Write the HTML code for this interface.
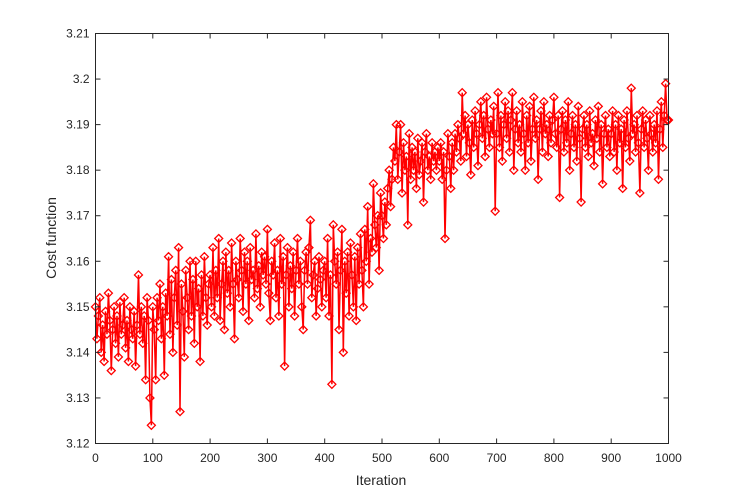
<!DOCTYPE html>
<html><head><meta charset="utf-8"><style>
body{margin:0;background:#fff;}
svg text{font-family:"Liberation Sans",sans-serif;fill:#262626;}
</style></head><body>
<svg id="chart" width="738" height="498" xmlns="http://www.w3.org/2000/svg">
<rect x="0" y="0" width="738" height="498" fill="#fff"/>
<g id="series"></g>
<rect x="95.5" y="33.5" width="573" height="410" fill="none" stroke="#262626" stroke-width="1"/>
<g id="axes"></g>
<text x="381" y="485" font-size="14" text-anchor="middle">Iteration</text>
<text x="0" y="0" font-size="14" text-anchor="middle" transform="translate(56,238) rotate(-90)">Cost function</text>
</svg>
<script>
const xTicks=[0,100,200,300,400,500,600,700,800,900,1000];
const yTicks=[3.12,3.13,3.14,3.15,3.16,3.17,3.18,3.19,3.2,3.21];
const yTickLabels=["3.12","3.13","3.14","3.15","3.16","3.17","3.18","3.19","3.2","3.21"];
const iterMax=1000;
// cost values in thousandths above 3.100
const costMilli=[
50,43,48,52,40,46,38,49,44,53,47,36,45,50,42,48,39,51,44,46,52,41,47,38,50,45,43,49,37,46,57,44,50,42,48,34,52,47,30,24,
50,45,34,52,47,55,43,50,35,53,48,61,44,56,40,52,58,46,63,27,55,49,39,58,52,45,60,48,56,42,60,50,54,38,57,48,61,52,46,55,
57,50,63,48,58,52,65,47,55,60,45,62,53,58,50,64,55,43,60,56,52,65,58,49,62,55,60,47,63,56,58,52,66,54,59,50,62,57,61,55,
67,53,47,60,57,64,52,58,48,65,55,61,37,57,63,50,59,54,62,48,58,65,55,60,50,45,58,62,55,63,69,52,57,60,48,54,61,56,50,58,
60,52,65,48,57,33,68,60,55,62,45,58,67,40,60,53,62,48,64,57,50,61,47,63,55,66,58,50,67,60,72,55,65,62,77,68,63,70,58,75,
70,65,73,68,76,80,72,78,85,82,90,78,84,90,75,86,80,83,68,88,78,85,80,84,76,87,79,82,86,73,84,88,80,83,78,86,82,84,80,85,
82,86,78,84,65,80,88,83,76,86,80,88,84,90,87,82,97,88,92,83,90,86,79,91,85,93,88,81,90,95,87,92,83,96,89,85,91,88,94,71,
88,97,85,92,82,90,95,87,93,84,91,97,80,89,93,86,90,84,95,88,80,92,86,94,82,89,96,87,91,78,89,93,84,95,88,90,83,92,86,91,
96,88,85,92,74,89,93,84,91,86,95,80,88,92,85,90,82,94,87,73,89,92,85,90,83,93,86,88,81,91,87,94,84,90,77,88,92,85,89,83,
88,93,84,90,80,92,86,89,76,91,85,93,87,82,98,88,90,84,92,86,75,89,93,85,91,87,80,92,88,84,90,86,93,78,89,95,85,92,99,91,
91];
const NS="http://www.w3.org/2000/svg";
const X0=95.5,X1=668.5,Y0=443.5,Y1=33.5;
const xScale=v=>X0+(v-0)/(1000-0)*(X1-X0);
const yScale=v=>Y0+(v-3.12)/(3.21-3.12)*(Y1-Y0);
const axes=document.getElementById('axes');
xTicks.forEach(t=>{
  const x=xScale(t);
  const l=document.createElementNS(NS,'line');
  l.setAttribute('x1',x);l.setAttribute('x2',x);l.setAttribute('y1',Y0);l.setAttribute('y2',Y0-5);
  l.setAttribute('stroke','#262626');
  
  
  axes.appendChild(l);
  const l2=document.createElementNS(NS,'line');
  l2.setAttribute('x1',x);l2.setAttribute('x2',x);l2.setAttribute('y1',Y1);l2.setAttribute('y2',Y1+5);
  l2.setAttribute('stroke','#262626');
  
  
  axes.appendChild(l2);
  const tx=document.createElementNS(NS,'text');
  tx.setAttribute('x',x);tx.setAttribute('y',462);tx.setAttribute('font-size','12');tx.setAttribute('text-anchor','middle');
  tx.textContent=t;
  
  
  axes.appendChild(tx);
});
yTicks.forEach((t,i)=>{
  const y=yScale(t);
  const l=document.createElementNS(NS,'line');
  l.setAttribute('x1',X0);l.setAttribute('x2',X0+5);l.setAttribute('y1',y);l.setAttribute('y2',y);
  l.setAttribute('stroke','#262626');
  
  
  axes.appendChild(l);
  const l2=document.createElementNS(NS,'line');
  l2.setAttribute('x1',X1);l2.setAttribute('x2',X1-5);l2.setAttribute('y1',y);l2.setAttribute('y2',y);
  l2.setAttribute('stroke','#262626');
  
  
  axes.appendChild(l2);
  const tx=document.createElementNS(NS,'text');
  tx.setAttribute('x',X0-6);tx.setAttribute('y',y+4);tx.setAttribute('font-size','12');tx.setAttribute('text-anchor','end');
  tx.textContent=yTickLabels[i];
  
  
  axes.appendChild(tx);
});
const series=document.getElementById('series');
const n=costMilli.length;
const pts=costMilli.map((m,i)=>[xScale(i*iterMax/(n-1)),yScale(3.1+m/1000)]);
const pl=document.createElementNS(NS,'polyline');
pl.setAttribute('points',pts.map(p=>p[0].toFixed(1)+','+p[1].toFixed(1)).join(' '));
pl.setAttribute('fill','none');pl.setAttribute('stroke','#ff0000');pl.setAttribute('stroke-width','1.5');


series.appendChild(pl);
pts.forEach(p=>{
  const d=document.createElementNS(NS,'path');
  const s=4;
  d.setAttribute('d',`M${p[0]} ${p[1]-s}L${p[0]+s} ${p[1]}L${p[0]} ${p[1]+s}L${p[0]-s} ${p[1]}Z`);
  d.setAttribute('fill','none');d.setAttribute('stroke','#ff0000');d.setAttribute('stroke-width','1.3');
  
  
  series.appendChild(d);
});
</script>
</body></html>
